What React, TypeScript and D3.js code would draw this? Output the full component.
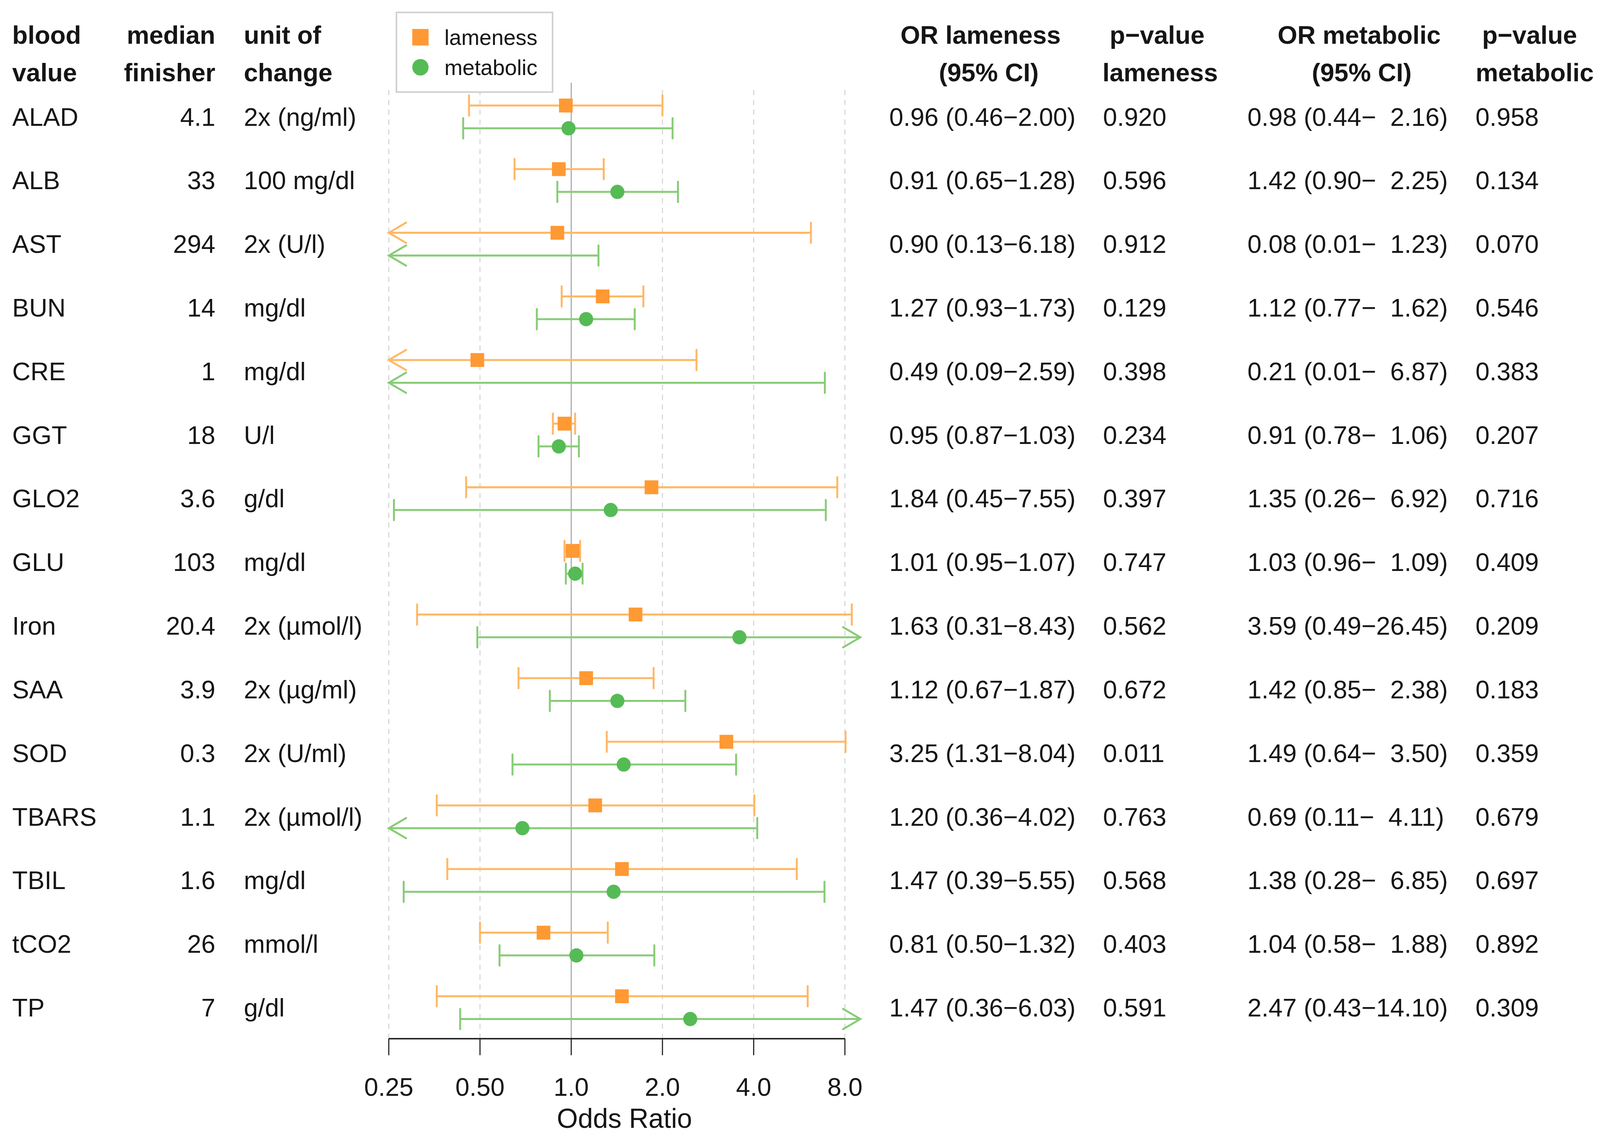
import * as d3 from 'd3'

// blood values (rows, top to bottom)
const markers = ['ALAD', 'ALB', 'AST', 'BUN', 'CRE', 'GGT', 'GLO2', 'GLU', 'Iron', 'SAA', 'SOD', 'TBARS', 'TBIL', 'tCO2', 'TP']
const medianFinisher = [4.1, 33, 294, 14, 1, 18, 3.6, 103, 20.4, 3.9, 0.3, 1.1, 1.6, 26, 7]
const units = ['2x (ng/ml)', '100 mg/dl', '2x (U/l)', 'mg/dl', 'mg/dl', 'U/l', 'g/dl', 'mg/dl', '2x (µmol/l)', '2x (µg/ml)', '2x (U/ml)', '2x (µmol/l)', 'mg/dl', 'mmol/l', 'g/dl']

// lameness odds ratios
const orLame = [0.96, 0.91, 0.90, 1.27, 0.49, 0.95, 1.84, 1.01, 1.63, 1.12, 3.25, 1.20, 1.47, 0.81, 1.47]
const loLame = [0.46, 0.65, 0.13, 0.93, 0.09, 0.87, 0.45, 0.95, 0.31, 0.67, 1.31, 0.36, 0.39, 0.50, 0.36]
const hiLame = [2.00, 1.28, 6.18, 1.73, 2.59, 1.03, 7.55, 1.07, 8.43, 1.87, 8.04, 4.02, 5.55, 1.32, 6.03]
const pLame = [0.920, 0.596, 0.912, 0.129, 0.398, 0.234, 0.397, 0.747, 0.562, 0.672, 0.011, 0.763, 0.568, 0.403, 0.591]

// metabolic odds ratios
const orMet = [0.98, 1.42, 0.08, 1.12, 0.21, 0.91, 1.35, 1.03, 3.59, 1.42, 1.49, 0.69, 1.38, 1.04, 2.47]
const loMet = [0.44, 0.90, 0.01, 0.77, 0.01, 0.78, 0.26, 0.96, 0.49, 0.85, 0.64, 0.11, 0.28, 0.58, 0.43]
const hiMet = [2.16, 2.25, 1.23, 1.62, 6.87, 1.06, 6.92, 1.09, 26.45, 2.38, 3.50, 4.11, 6.85, 1.88, 14.10]
const pMet = [0.958, 0.134, 0.070, 0.546, 0.383, 0.207, 0.716, 0.409, 0.209, 0.183, 0.359, 0.679, 0.697, 0.892, 0.309]

const ticks = [0.25, 0.5, 1, 2, 4, 8]
const tickLabels = ['0.25', '0.50', '1.0', '2.0', '4.0', '8.0']

const W = 1568
const H = 1100
const FONT = '"Liberation Sans", Arial, Helvetica, sans-serif'
const TXT = '#151515'
const FS = 24.8
const CLIP: [number, number] = [0.25, 9]

const x = d3.scaleLog().base(2).domain([0.25, 8]).range([381, 828])
const y = d3.scalePoint<string>().domain(markers).range([113, 974])

// pad short upper bounds: two no-break spaces take the width of one digit
function fmtCI(or: number[], lo: number[], hi: number[]) {
  const w = d3.max(hi, d => d.toFixed(2).length) ?? 4
  return or.map((o, i) => {
    const h = hi[i].toFixed(2)
    return `${o.toFixed(2)} (${lo[i].toFixed(2)}−${'\u00A0\u00A0'.repeat(w - h.length)}${h})`
  })
}

const series = [
  { key: 'lameness', or: orLame, lo: loLame, hi: hiLame, dy: -11, line: '#ffb866', fill: '#ff9933', shape: 'square' },
  { key: 'metabolic', or: orMet, lo: loMet, hi: hiMet, dy: 11, line: '#88cc77', fill: '#55bb55', shape: 'circle' },
]

const CAP = 9.8
const ARM = 17

function ErrorBar({ yy, or, lo, hi, line, fill, shape }: any) {
  const x0 = x(Math.max(lo, CLIP[0]))
  const x1 = x(Math.min(hi, CLIP[1]))
  const sw = 1.9
  return (
    <g>
      <line x1={x0} x2={x1} y1={yy} y2={yy} stroke={line} strokeWidth={sw} />
      {lo < CLIP[0]
        ? <path d={`M${x0 + ARM},${yy - CAP}L${x0},${yy}L${x0 + ARM},${yy + CAP}`} fill="none" stroke={line} strokeWidth={sw} strokeLinecap="round" />
        : <line x1={x0} x2={x0} y1={yy - CAP} y2={yy + CAP} stroke={line} strokeWidth={sw} strokeLinecap="round" />}
      {hi > CLIP[1]
        ? <path d={`M${x1 - ARM},${yy - CAP}L${x1},${yy}L${x1 - ARM},${yy + CAP}`} fill="none" stroke={line} strokeWidth={sw} strokeLinecap="round" />
        : <line x1={x1} x2={x1} y1={yy - CAP} y2={yy + CAP} stroke={line} strokeWidth={sw} strokeLinecap="round" />}
      {or >= CLIP[0] && or <= CLIP[1] && (shape === 'square'
        ? <rect x={x(or) - 6.7} y={yy - 6.7} width={13.4} height={13.4} fill={fill} />
        : <circle cx={x(or)} cy={yy} r={6.9} fill={fill} />)}
    </g>
  )
}

export default function App() {
  const ciLame = fmtCI(orLame, loLame, hiLame)
  const ciMet = fmtCI(orMet, loMet, hiMet)
  const base = (m: string) => (y(m) ?? 0) + 8.5

  const headers = [
    { lines: ['blood', 'value'], x: 12, anchor: 'start' },
    { lines: ['median', 'finisher'], x: 211, anchor: 'end' },
    { lines: ['unit of', 'change'], x: 239, anchor: 'start' },
  ]
  const centeredHeaders = [
    { text: 'OR lameness', x: 961, row: 0 }, { text: '(95% CI)', x: 969, row: 1 },
    { text: 'p−value', x: 1134, row: 0 }, { text: 'lameness', x: 1137, row: 1 },
    { text: 'OR metabolic', x: 1332, row: 0 }, { text: '(95% CI)', x: 1334.5, row: 1 },
    { text: 'p−value', x: 1499, row: 0 }, { text: 'metabolic', x: 1504, row: 1 },
  ]
  const headerY = [42.2, 78.7]

  return (
    <>
      <style>{'html,body{margin:0;padding:0;overflow:hidden}'}</style>
      <svg viewBox={`0 0 ${W} ${H}`} preserveAspectRatio="none"
        style={{ display: 'block', width: '100vw', height: '100vh', background: '#fff' }} fontFamily={FONT}>
        {/* grid */}
        {ticks.map(t => t === 1
          ? <line key={t} x1={x(t)} x2={x(t)} y1={80} y2={1004} stroke="#aaaaaa" strokeWidth={1.1} />
          : <line key={t} x1={x(t)} x2={x(t)} y1={87} y2={1004} stroke="#d4d4d4" strokeWidth={1} strokeDasharray="5 4.5" />)}

        {/* legend */}
        <rect x={388.5} y={12} width={153} height={77} fill="#fff" stroke="#cfcfcf" strokeWidth={1.5} />
        <rect x={412 - 8} y={36 - 8} width={16} height={16} fill={series[0].fill} />
        <circle cx={412} cy={65} r={8} fill={series[1].fill} />
        <text x={435.5} y={43.5} fontSize={21.3} fill={TXT}>lameness</text>
        <text x={435.5} y={72.5} fontSize={21.3} fill={TXT}>metabolic</text>

        {/* error bars */}
        {markers.map((m, i) => series.map(s => (
          <ErrorBar key={m + s.key} yy={(y(m) ?? 0) + s.dy} or={s.or[i]} lo={s.lo[i]} hi={s.hi[i]} line={s.line} fill={s.fill} shape={s.shape} />
        )))}

        {/* axis */}
        <line x1={x(0.25)} x2={x(8)} y1={1004} y2={1004} stroke="#222" strokeWidth={1.4} />
        {ticks.map((t, i) => (
          <g key={t}>
            <line x1={x(t)} x2={x(t)} y1={1004} y2={1020} stroke="#222" strokeWidth={1.1} />
            <text x={x(t)} y={1059.3} textAnchor="middle" fontSize={FS} fill={TXT}>{tickLabels[i]}</text>
          </g>
        ))}
        <text x={612} y={1090} textAnchor="middle" fontSize={26.5} fill={TXT}>Odds Ratio</text>

        {/* headers */}
        {headers.map(h => h.lines.map((l, j) => (
          <text key={l} x={h.x} y={headerY[j]} textAnchor={h.anchor as any} fontSize={FS} fontWeight="bold" fill={TXT}>{l}</text>
        )))}
        {centeredHeaders.map((h, k) => (
          <text key={k} x={h.x} y={headerY[h.row]} textAnchor="middle" fontSize={FS} fontWeight="bold" fill={TXT}>{h.text}</text>
        ))}

        {/* table rows */}
        {markers.map((m, i) => (
          <g key={m} fontSize={FS} fill={TXT}>
            <text x={12} y={base(m)}>{m}</text>
            <text x={211} y={base(m)} textAnchor="end">{String(medianFinisher[i])}</text>
            <text x={239} y={base(m)}>{units[i]}</text>
            <text x={871.5} y={base(m)}>{ciLame[i]}</text>
            <text x={1081} y={base(m)}>{pLame[i].toFixed(3)}</text>
            <text x={1222.5} y={base(m)}>{ciMet[i]}</text>
            <text x={1446} y={base(m)}>{pMet[i].toFixed(3)}</text>
          </g>
        ))}
      </svg>
    </>
  )
}
